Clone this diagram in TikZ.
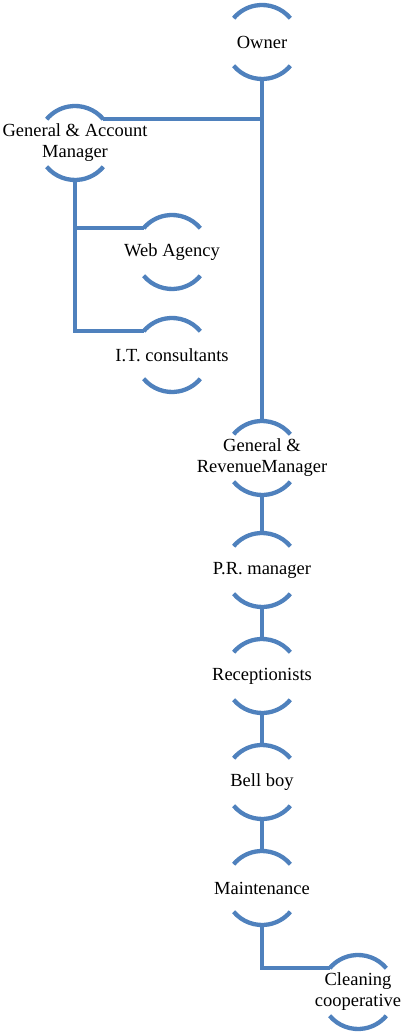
\documentclass[tikz,border=0pt]{standalone}
\usepackage{fontspec}
\setmainfont{Liberation Serif}
\definecolor{orgblue}{RGB}{79,129,189}
\newcommand{\lblfont}{\fontsize{18.5}{21}\selectfont}
\tikzset{
  unit/.style={circle, draw=none, inner sep=0pt, minimum size=2*\crad pt},
  link/.style={draw=orgblue, line width=4.3pt},
  txt/.style={align=center, font=\lblfont, text=black}
}

\begin{document}
\begin{tikzpicture}[x=1pt,y=1pt]
\newcommand{\crad}{37}
\useasboundingbox (0,0) rectangle (406,1034);

\node[unit, label={[txt]center:Owner}] (own) at (262,992) {};
\node[unit, label={[txt]center:General \& Account\\Manager}] (gam) at (75,891) {};
\node[unit, label={[txt]center:Web Agency}] (web) at (172,782) {};
\node[unit, label={[txt]center:I.T. consultants}] (it) at (172,679) {};
\node[unit, label={[txt]center:General \&\\RevenueManager}] (grm) at (262,576) {};
\node[unit, label={[txt]center:P.R. manager}] (pr) at (262,464) {};
\node[unit, label={[txt]center:Receptionists}] (rec) at (262,358) {};
\node[unit, label={[txt]center:Bell boy}] (bell) at (262,252) {};
\node[unit, label={[txt]center:Maintenance}] (mnt) at (262,146) {};
\node[unit, label={[txt]center:Cleaning\\cooperative}] (cln) at (358,42) {};

\foreach \n in {own,gam,web,it,grm,pr,rec,bell,mnt,cln} {
  \draw[link] ([shift={(40:\crad pt)}]\n.center) arc (40:140:\crad pt);
  \draw[link] ([shift={(220:\crad pt)}]\n.center) arc (220:320:\crad pt);
}

\draw[link] (own.south) -- (grm.north);
\draw[link] (gam.40) -- (gam.40 -| own.south);
\draw[link] (gam.south) |- (web.140);
\draw[link] (gam.south) |- (it.140);
\draw[link] (grm.south) -- (pr.north);
\draw[link] (pr.south) -- (rec.north);
\draw[link] (rec.south) -- (bell.north);
\draw[link] (bell.south) -- (mnt.north);
\draw[link] (mnt.south) |- (cln.140);
\end{tikzpicture}
\end{document}
